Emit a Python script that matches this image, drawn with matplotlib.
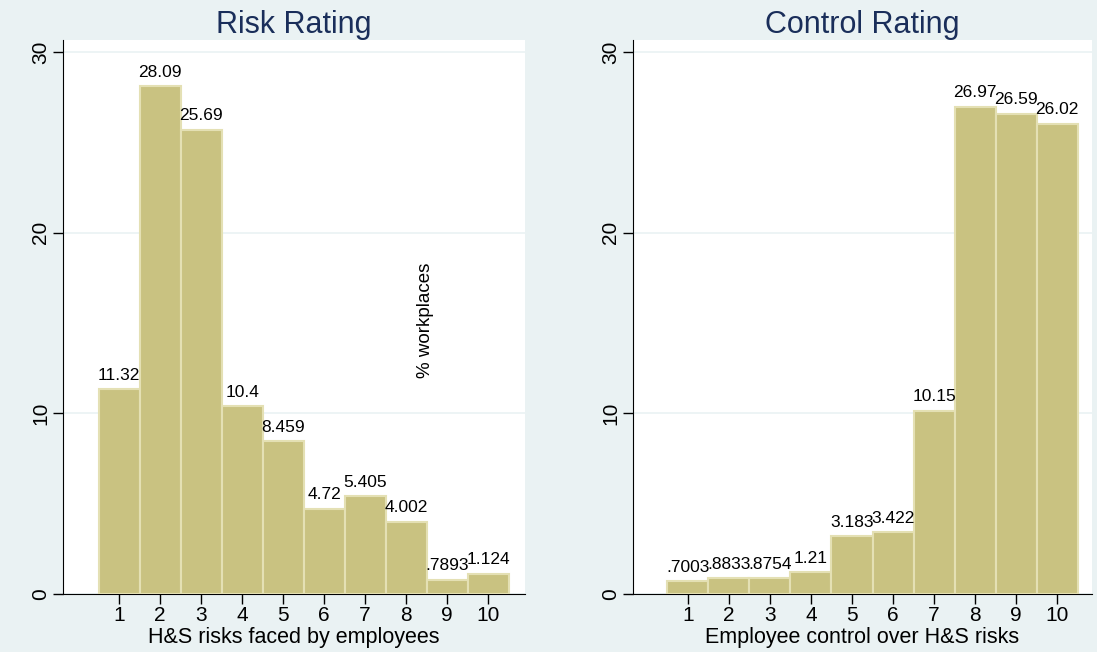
import matplotlib.pyplot as plt

plt.rcParams['font.family'] = ['Liberation Sans', 'DejaVu Sans']

ratings = [1, 2, 3, 4, 5, 6, 7, 8, 9, 10]
risk_pct = [11.32, 28.09, 25.69, 10.4, 8.459, 4.72, 5.405, 4.002, 0.7893, 1.124]
risk_labels = ["11.32", "28.09", "25.69", "10.4", "8.459", "4.72", "5.405", "4.002", ".7893", "1.124"]
control_pct = [0.7003, 0.8833, 0.8754, 1.21, 3.183, 3.422, 10.15, 26.97, 26.59, 26.02]
control_labels = [".7003", ".8833", ".8754", "1.21", "3.183", "3.422", "10.15", "26.97", "26.59", "26.02"]

bg = "#EAF2F3"
bar_col = "#C9C281"
edge_col = "#E4E0B4"
title_col = "#1A2E5A"

fig = plt.figure(figsize=(10.97, 6.52), dpi=100, facecolor=bg)
ax1 = fig.add_axes([0.0574, 0.089, 0.4211, 0.8497])
ax2 = fig.add_axes([0.577, 0.089, 0.4184, 0.8497])


def draw_panel(ax, vals, labels, title, xlabel, xlim):
    ax.set_facecolor("white")
    ax.bar(ratings, vals, width=1.0, color=bar_col, edgecolor=edge_col, linewidth=1.5, zorder=3)
    for x, v, lab in zip(ratings, vals, labels):
        ax.text(x, v + 0.35, lab, ha="center", va="bottom", fontsize=12.5, zorder=4)
    ax.set_xlim(*xlim)
    ax.set_ylim(0, 30.66)
    ax.set_yticks([0, 10, 20, 30])
    ax.set_xticks(ratings)
    ax.grid(axis="y", color=bg, linewidth=1.2, zorder=0)
    for s in ["top", "right"]:
        ax.spines[s].set_visible(False)
    ax.spines["left"].set_color("black")
    ax.spines["bottom"].set_color("black")
    ax.tick_params(axis="both", direction="out", length=7, width=1, labelsize=15, pad=2)
    for t in ax.get_yticklabels():
        t.set_rotation(90)
        t.set_va("center")
    ax.set_xlabel(xlabel, fontsize=15.5, labelpad=1)
    ax.set_title(title, fontsize=22, color=title_col, pad=4)


draw_panel(ax1, risk_pct, risk_labels, "Risk Rating", "H&S risks faced by employees", (-0.37, 10.9))
draw_panel(ax2, control_pct, control_labels, "Control Rating", "Employee control over H&S risks", (-0.34, 10.85))

fig.text(425 / 1097, 1 - 320 / 652, "% workplaces", rotation=90, ha="center", va="center", fontsize=13.5)

fig.savefig("out.png", dpi=100, facecolor=bg)
